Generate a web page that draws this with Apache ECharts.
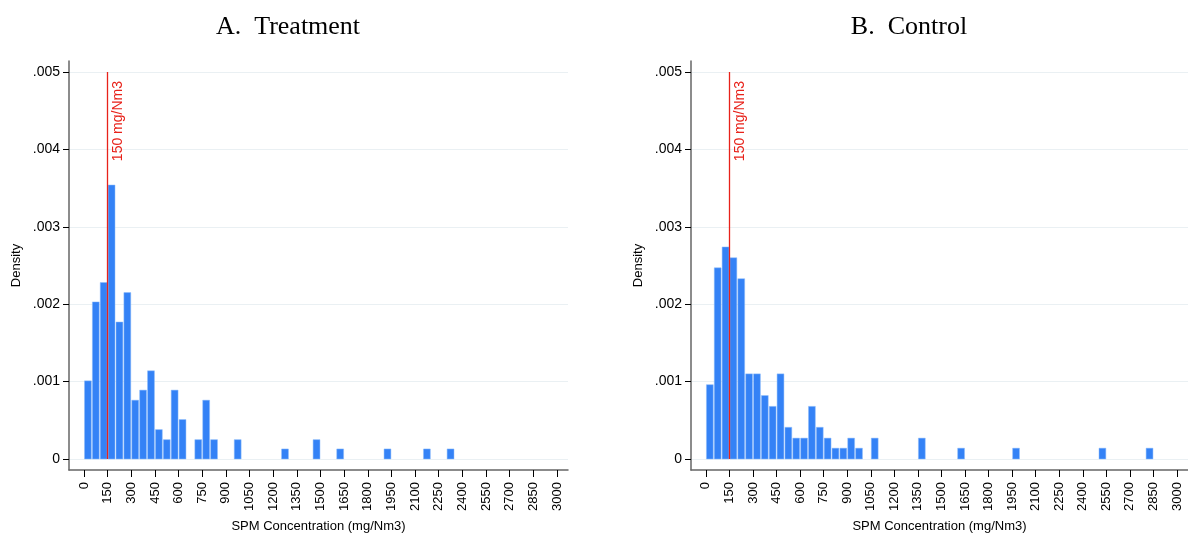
<!DOCTYPE html>
<html>
<head>
<meta charset="utf-8">
<script src="https://cdn.jsdelivr.net/npm/echarts@6/dist/echarts.min.js"></script>
<style>
  html, body { margin: 0; padding: 0; background: #fff; }
  #chart { width: 1188px; height: 538px; }
</style>
</head>
<body>
<div id="chart"></div>
<script>
var myChart = echarts.init(document.getElementById('chart'));

// histogram bins, width 50 mg/Nm3 (lower edge of each bin)
var binWidth = 50;
var treatBins = [0, 50, 100, 150, 200, 250, 300, 350, 400, 450, 500, 550, 600, 700, 750, 800, 950, 1250, 1450, 1600, 1900, 2150, 2300];
var treatDensity = [0.00101, 0.00203, 0.00228, 0.00354, 0.00177, 0.00215, 0.00076, 0.00089, 0.00114, 0.00038, 0.00025, 0.00089, 0.00051, 0.00025, 0.00076, 0.00025, 0.00025, 0.00013, 0.00025, 0.00013, 0.00013, 0.00013, 0.00013];

var controlBins = [0, 50, 100, 150, 200, 250, 300, 350, 400, 450, 500, 550, 600, 650, 700, 750, 800, 850, 900, 950, 1050, 1350, 1600, 1950, 2500, 2800];
var controlDensity = [0.00096, 0.00247, 0.00274, 0.00260, 0.00233, 0.00110, 0.00110, 0.00082, 0.00068, 0.00110, 0.00041, 0.00027, 0.00027, 0.00068, 0.00041, 0.00027, 0.00014, 0.00014, 0.00027, 0.00014, 0.00027, 0.00027, 0.00014, 0.00014, 0.00014, 0.00014];

var xTicks = [0, 150, 300, 450, 600, 750, 900, 1050, 1200, 1350, 1500, 1650, 1800, 1950, 2100, 2250, 2400, 2550, 2700, 2850, 3000];
var yTicks = [0, 0.001, 0.002, 0.003, 0.004, 0.005];
var cutoff = [[150, 0.005]];
var cutoffLabel = '150 mg/Nm3';
var titles = ['A.  Treatment', 'B.  Control'];

var barColor = '#3482f6';
var red = '#e8221a';
var font = 'Liberation Sans, Arial, Helvetica, sans-serif';

function pairs(bins, dens) {
    return bins.map(function (b, i) { return [b, dens[i]]; });
}

function renderBar(params, api) {
    var x0 = api.value(0);
    var top = api.coord([x0, api.value(1)]);
    var bot = api.coord([x0 + binWidth, 0]);
    return {
        type: 'rect',
        shape: {
            x: top[0] + 0.5,
            y: top[1],
            width: bot[0] - top[0] - 1,
            height: bot[1] - top[1]
        },
        style: {
            fill: barColor,
            stroke: '#8fbcfa',
            lineWidth: 0.5
        }
    };
}

// vertical reference line with its rotated label
function renderCutoff(params, api) {
    var top = api.coord([api.value(0), api.value(1)]);
    var bot = api.coord([api.value(0), 0]);
    var x = Math.floor(top[0]) + 0.5;
    return {
        type: 'group',
        children: [{
            type: 'line',
            shape: { x1: x, y1: top[1], x2: x, y2: bot[1] },
            style: { stroke: red, lineWidth: 1.3 }
        }, {
            type: 'text',
            x: x + 4,
            y: top[1] + 9,
            rotation: Math.PI / 2,
            style: {
                text: cutoffLabel,
                fill: red,
                font: '14px ' + font,
                align: 'right',
                verticalAlign: 'top'
            }
        }]
    };
}

function xAxisCfg(idx) {
    return {
        type: 'value',
        gridIndex: idx,
        min: -95,
        max: 3070,
        name: 'SPM Concentration (mg/Nm3)',
        nameLocation: 'middle',
        nameGap: 50,
        nameTextStyle: { fontFamily: font, fontSize: 13, color: '#000' },
        axisLine: { show: true, onZero: false, lineStyle: { color: '#666', width: 1.5 } },
        axisTick: { show: true, inside: false, length: 7, customValues: xTicks, lineStyle: { color: '#000' } },
        axisLabel: {
            customValues: xTicks,
            rotate: 90,
            margin: 12,
            fontFamily: font,
            fontSize: 13,
            color: '#000',
            formatter: function (v) { return String(v); }
        },
        splitLine: { show: false }
    };
}

function yAxisCfg(idx) {
    return {
        type: 'value',
        gridIndex: idx,
        min: -0.000142,
        max: 0.005142,
        name: 'Density',
        nameLocation: 'middle',
        nameGap: 46,
        nameTextStyle: { fontFamily: font, fontSize: 13, color: '#000' },
        axisLine: { show: true, onZero: false, lineStyle: { color: '#666', width: 1.5 } },
        axisTick: { show: true, inside: false, length: 6, customValues: yTicks, lineStyle: { color: '#000' } },
        axisLabel: {
            customValues: yTicks,
            margin: 9,
            fontFamily: font,
            fontSize: 14,
            color: '#000',
            formatter: function (v) {
                return v === 0 ? '0' : v.toFixed(3).replace(/^0/, '');
            }
        },
        splitLine: { show: true, lineStyle: { color: '#eaf0f3', width: 1 } }
    };
}

var titleStyle = { fontFamily: 'Liberation Serif, Times New Roman, serif', fontSize: 26, fontWeight: 'normal', color: '#000' };

option = {
    animation: false,
    title: [{
        text: titles[0],
        left: 283,
        top: 9,
        textAlign: 'center',
        textStyle: titleStyle
    }, {
        text: titles[1],
        left: 904,
        top: 9,
        textAlign: 'center',
        textStyle: titleStyle
    }],
    grid: [
        { left: 69, top: 61, width: 499, height: 409, containLabel: false, outerBoundsMode: 'none' },
        { left: 691, top: 61, width: 497, height: 409, containLabel: false, outerBoundsMode: 'none' }
    ],
    xAxis: [xAxisCfg(0), xAxisCfg(1)],
    yAxis: [yAxisCfg(0), yAxisCfg(1)],
    series: [{
        type: 'custom',
        xAxisIndex: 0,
        yAxisIndex: 0,
        renderItem: renderBar,
        data: pairs(treatBins, treatDensity)
    }, {
        type: 'custom',
        xAxisIndex: 1,
        yAxisIndex: 1,
        renderItem: renderBar,
        data: pairs(controlBins, controlDensity)
    }, {
        type: 'custom',
        xAxisIndex: 0,
        yAxisIndex: 0,
        silent: true,
        renderItem: renderCutoff,
        data: cutoff
    }, {
        type: 'custom',
        xAxisIndex: 1,
        yAxisIndex: 1,
        silent: true,
        renderItem: renderCutoff,
        data: cutoff
    }]
};
myChart.setOption(option);
</script>
</body>
</html>
